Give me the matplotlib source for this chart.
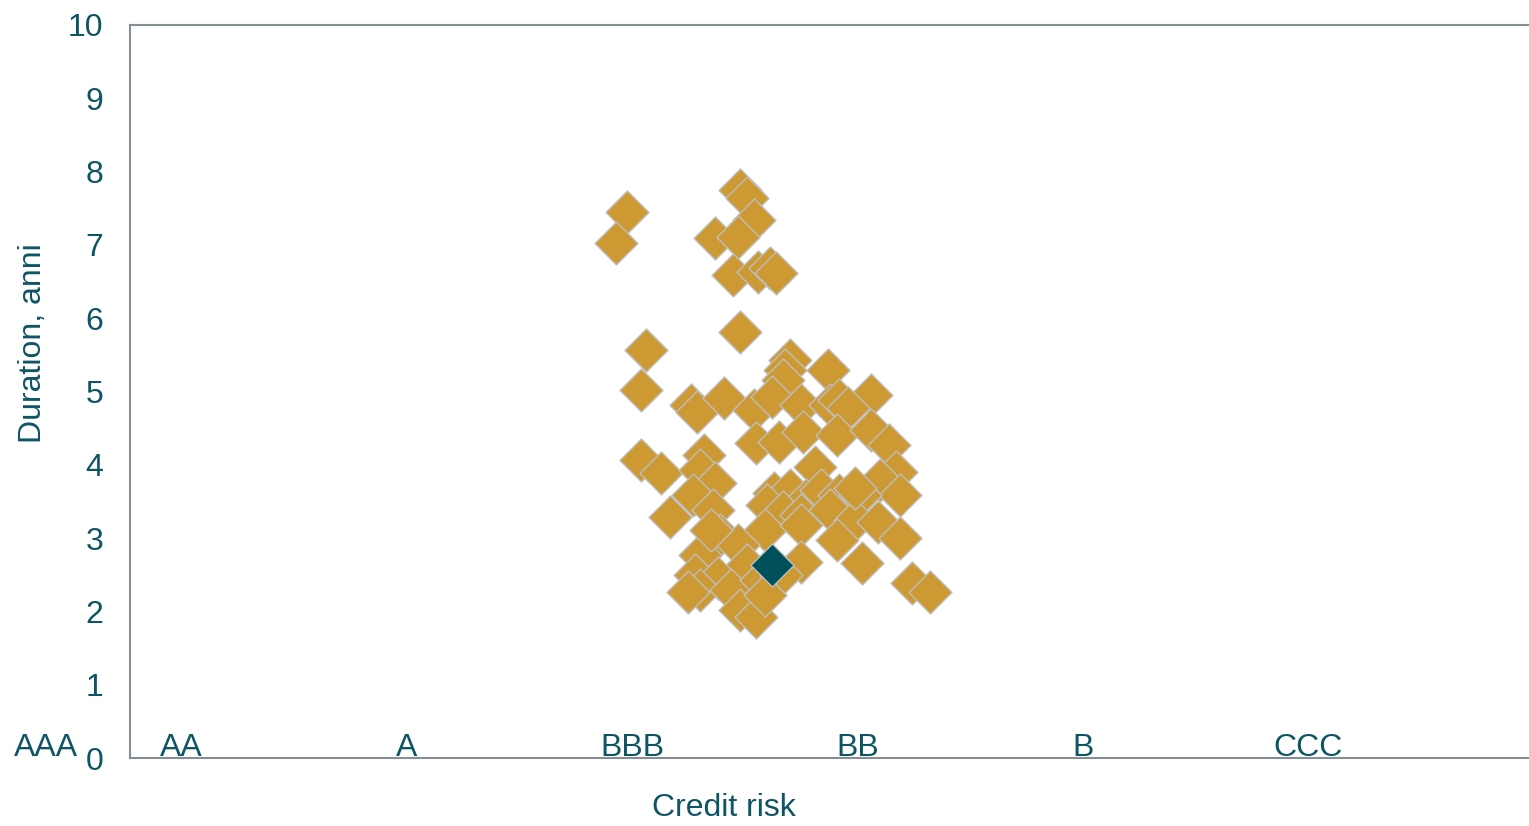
import matplotlib.pyplot as plt

# rating scale: AA=1, A=2, BBB=3, BB=4, B=5, CCC=6
rating_labels = ["AAA", "AA", "A", "BBB", "BB", "B", "CCC"]
rating_pos = [0.4, 1, 2, 3, 4, 5, 6]

# bonds in the portfolio: credit risk position and duration (years)
bond_risk = [2.98, 2.93, 3.48, 3.51, 3.54, 3.37, 3.47, 3.45, 3.56, 3.61, 3.64,
             3.48, 3.06, 3.04, 3.70, 3.68, 3.67, 3.87, 3.26, 3.29, 3.41, 3.54,
             3.62, 3.75, 3.88, 3.92, 4.06, 3.96, 3.55, 3.65, 3.76, 3.91, 4.06,
             4.14, 3.04, 3.13, 3.32, 3.30, 3.37, 3.81, 4.17, 4.10, 4.19, 3.17,
             3.27, 3.36, 3.63, 3.70, 3.77, 3.84, 3.92, 4.01, 3.60, 3.67, 3.75,
             3.88, 3.99, 4.09, 3.39, 3.59, 3.75, 3.91, 4.19, 3.30, 3.47, 3.51,
             3.75, 4.02, 3.28, 3.38, 3.30, 3.25, 3.44, 3.57, 3.66, 3.48, 3.55,
             3.59, 4.24, 4.32, 3.35, 3.99]
bond_duration = [7.45, 7.03, 7.75, 7.64, 7.34, 7.09, 7.11, 6.59, 6.63, 6.69, 6.62,
                 5.81, 5.57, 5.02, 5.43, 5.29, 5.16, 5.29, 4.82, 4.72, 4.91, 4.75,
                 4.93, 4.82, 4.82, 4.88, 4.95, 4.78, 4.30, 4.31, 4.45, 4.41, 4.48,
                 4.27, 4.07, 3.89, 4.13, 3.93, 3.75, 3.97, 3.90, 3.79, 3.59, 3.29,
                 3.59, 3.38, 3.62, 3.66, 3.52, 3.66, 3.59, 3.59, 3.45, 3.36, 3.32,
                 3.38, 3.25, 3.22, 3.04, 3.11, 3.18, 2.97, 3.00, 2.77, 2.91, 2.63,
                 2.67, 2.66, 2.50, 2.46, 2.29, 2.27, 2.29, 2.43, 2.50, 2.02, 1.92,
                 2.22, 2.39, 2.27, 3.11, 3.68]

# the fund itself
fund_risk = [3.62]
fund_duration = [2.63]

gold = "#CC9933"
teal = "#00505C"
text_col = "#0E5563"
spine_col = "#868E93"

fig = plt.figure(figsize=(15.29, 8.26), dpi=100)
ax = fig.add_axes([130 / 1529, 1 - 758 / 826, 1 - 130 / 1529, (758 - 25) / 826])

ax.scatter(bond_risk, bond_duration, marker="D", s=480, color=gold,
           edgecolors="#BFBFBF", linewidths=1.0, zorder=2)
ax.scatter(fund_risk, fund_duration, marker="D", s=480, color=teal,
           edgecolors="#BFBFBF", linewidths=1.0, zorder=3)

ax.set_xlim(1 + (130 - 181) / 225.5, 1 + (1529 - 181) / 225.5)
ax.set_ylim(0, 10)
ax.set_yticks(range(0, 11))
ax.set_xticks([])
ax.tick_params(axis="y", length=0, pad=19, labelsize=23, labelcolor=text_col)
for lab in ax.get_yticklabels():
    lab.set_family("Liberation Sans")

for side in ["left", "bottom", "top"]:
    ax.spines[side].set_color(spine_col)
    ax.spines[side].set_linewidth(1.5)
ax.spines["right"].set_visible(False)

# rating names sit just above the bottom spine
for lab, pos in zip(rating_labels, rating_pos):
    ax.text(pos, 0.14, lab, ha="center", va="center", fontsize=23,
            color=text_col, family="Liberation Sans", clip_on=False)

fig.text(33 / 1529, 1 - 343 / 826, "Duration, anni", rotation=90, ha="center",
         va="center", fontsize=23, color=text_col, family="Liberation Sans")
fig.text(724 / 1529, 1 - 808 / 826, "Credit risk", ha="center", va="center",
         fontsize=23, color=text_col, family="Liberation Sans")

fig.savefig("out.png", dpi=100)
